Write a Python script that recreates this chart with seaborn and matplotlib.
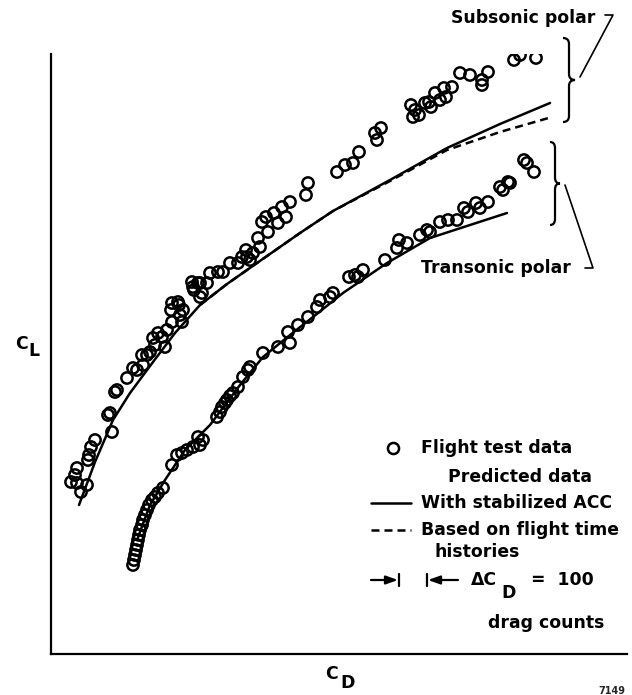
import matplotlib
matplotlib.use("Agg")
import matplotlib.pyplot as plt
from matplotlib.path import Path
from matplotlib.patches import PathPatch
import seaborn as sns
import pandas as pd

# ---------------- data (arbitrary drag / lift units) ----------------
sub_cd = [71, 77, 87, 81, 75, 77, 89, 91, 95, 88,
          108, 112, 110, 115, 117, 127, 133, 137, 143, 147, 142, 150, 155, 165, 153, 158, 167, 172, 182, 162,
          171, 172, 178, 183, 180, 179,
          193, 200, 200, 207, 198, 194, 202, 192,
          210, 218, 223, 230, 238, 242, 246, 250, 253, 247,
          258, 260, 262, 266, 268, 278, 274, 282, 286, 290,
          306, 308, 337, 345, 353, 359, 375, 377, 381,
          411, 415, 419, 413, 425, 429, 431, 435, 440, 444, 446, 452,
          460, 470, 482, 488, 482, 514, 520, 536]
sub_cl = [213, 212, 210, 203, 220, 227, 240, 248, 255, 235,
          280, 263, 282, 303, 305, 317, 327, 325, 330, 340, 340, 343, 350, 348, 357, 362, 365, 373, 373, 358,
          385, 392, 393, 385, 380, 390,
          408, 412, 398, 412, 412, 405, 402, 413,
          422, 423, 423, 432, 432, 438, 445, 435, 442, 438,
          457, 448, 473, 478, 463, 472, 482, 488, 478, 493,
          500, 512, 523, 530, 532, 543, 562, 555, 567,
          590, 585, 580, 578, 592, 593, 588, 602, 595, 607, 598, 608,
          622, 620, 615, 623, 610, 635, 640, 637]

tra_cd = [133, 134, 135, 136, 137, 138, 139, 140, 142, 143, 145, 147, 149, 152, 155, 158, 163,
          172, 177, 182, 187, 193, 198, 203, 200,
          217, 220, 222, 225, 227, 230, 233, 238, 243, 248,
          250, 263, 278, 290, 288, 298, 308, 317, 320, 330, 333,
          349, 355, 358, 363, 385, 397, 407, 399,
          420, 427, 430, 440, 448, 457,
          464, 468, 476, 480, 488, 500, 508, 503, 510,
          524, 527, 534]
tra_cl = [130, 135, 140, 145, 150, 155, 160, 165, 170, 175, 180, 185, 190, 195, 198, 202, 207,
          230, 240, 242, 245, 248, 258, 255, 250,
          278, 283, 288, 292, 295, 299, 302, 308, 318, 325,
          328, 342, 348, 352, 363, 370, 378, 388, 395, 398, 402,
          418, 420, 418, 425, 435, 447, 452, 455,
          460, 465, 463, 473, 475, 475,
          487, 483, 492, 487, 493, 508, 513, 505, 512,
          535, 532, 523]

# predicted polars
sub_acc_cd = [79, 95, 113, 130, 153, 175, 200, 227, 257, 300, 333, 390, 447, 500, 550]
sub_acc_cl = [190, 233, 275, 302, 333, 362, 390, 411, 432, 462, 484, 515, 547, 571, 592]
sub_hist_cd = [200, 227, 257, 300, 333, 390, 447, 500, 552]
sub_hist_cl = [390, 411, 432, 462, 484, 514, 545, 563, 578]
tra_acc_cd = [137, 150, 165, 185, 210, 240, 263, 290, 313, 343, 387, 430, 470, 507]
tra_acc_cl = [155, 190, 215, 245, 270, 310, 338, 360, 378, 402, 432, 457, 470, 482]

flight = pd.DataFrame({"CD": sub_cd + tra_cd, "CL": sub_cl + tra_cl})

# ---------------- figure ----------------
sns.set_style("white")
plt.rcParams["font.family"] = ["DejaVu Sans"]
plt.rcParams["font.weight"] = "bold"

W, H = 632, 695
fig = plt.figure(figsize=(W / 100, H / 100), dpi=100)
ax = fig.add_axes([51 / W, 41 / H, 576 / W, 600 / H])
ax.set_xlim(51, 627)
ax.set_ylim(41, 641)

LW = 1.8
sns.scatterplot(data=flight, x="CD", y="CL", ax=ax, marker="o", s=66,
                facecolor="none", edgecolor="black", linewidth=1.8, zorder=3)
sns.lineplot(x=sub_acc_cd, y=sub_acc_cl, ax=ax, sort=False, estimator=None,
             color="black", lw=LW)
sns.lineplot(x=sub_hist_cd, y=sub_hist_cl, ax=ax, sort=False, estimator=None,
             color="black", lw=LW, linestyle=(0, (3.2, 2.0)))
sns.lineplot(x=tra_acc_cd, y=tra_acc_cl, ax=ax, sort=False, estimator=None,
             color="black", lw=LW)

ax.set_xlabel("")
ax.set_ylabel("")
ax.set_xticks([])
ax.set_yticks([])
for s in ["top", "right"]:
    ax.spines[s].set_visible(False)
for s in ["left", "bottom"]:
    ax.spines[s].set_linewidth(1.6)
    ax.spines[s].set_color("black")

FS = 12.4
txt = dict(fontsize=FS, fontweight="bold", color="black", clip_on=False)


def brace(x, y0, y1, w, lw=1.6):
    ym = (y0 + y1) / 2
    r = 6
    xb = x + w * 0.5
    verts = [(x, y1), (xb, y1), (xb, y1 - r), (xb, ym + r), (xb, ym), (x + w, ym),
             (xb, ym), (xb, ym - r), (xb, y0 + r), (xb, y0), (x, y0)]
    codes = [Path.MOVETO, Path.CURVE3, Path.CURVE3, Path.LINETO, Path.CURVE3, Path.CURVE3,
             Path.CURVE3, Path.CURVE3, Path.LINETO, Path.CURVE3, Path.CURVE3]
    ax.add_patch(PathPatch(Path(verts, codes), fill=False, lw=lw, color="black", clip_on=False))


brace(563, 573, 657, 12)
brace(550, 470, 553, 10)

# leader lines
ax.plot([605, 613, 580], [680, 680, 618], color="black", lw=1.2, clip_on=False)
ax.plot([565, 593, 585], [510, 427, 427], color="black", lw=1.2, clip_on=False)
ax.text(451, 677, "Subsonic polar", ha="left", va="center", **txt)
ax.text(421, 427, "Transonic polar", ha="left", va="center", **txt)

# legend (drawn as annotations)
ax.plot([393], [247], marker="o", ms=8, mfc="none", mec="black", mew=1.8, clip_on=False)
ax.text(421, 247, "Flight test data", ha="left", va="center", **txt)
ax.text(448, 218, "Predicted data", ha="left", va="center", **txt)
ax.plot([371, 411], [192, 192], color="black", lw=LW)
ax.text(421, 192, "With stabilized ACC", ha="left", va="center", **txt)
ax.plot([371, 411], [165, 165], color="black", lw=LW, linestyle=(0, (3.2, 2.0)))
ax.text(421, 165, "Based on flight time", ha="left", va="center", **txt)
ax.text(435, 143, "histories", ha="left", va="center", **txt)

# delta CD indicator
ax.annotate("", xy=(398, 115), xytext=(371, 115),
            arrowprops=dict(arrowstyle="-|>,head_length=0.7,head_width=0.25", color="black", lw=1.6,
                            shrinkA=0, shrinkB=0))
ax.plot([399, 399], [109, 121], color="black", lw=1.6)
ax.annotate("", xy=(428, 115), xytext=(458, 115),
            arrowprops=dict(arrowstyle="-|>,head_length=0.7,head_width=0.25", color="black", lw=1.6,
                            shrinkA=0, shrinkB=0))
ax.plot([427, 427], [109, 121], color="black", lw=1.6)
ax.text(471, 115, "\u0394C", ha="left", va="center", **txt)
ax.text(501, 102, "D", ha="left", va="center", **txt)
ax.text(531, 115, "=  100", ha="left", va="center", **txt)
ax.text(488, 72, "drag counts", ha="left", va="center", **txt)

# axis labels
ax.text(331, 21, "C", ha="center", va="center", **txt)
ax.text(348, 12, "D", ha="center", va="center", **txt)
ax.text(21, 351, "C", ha="center", va="center", **txt)
ax.text(34, 344, "L", ha="center", va="center", **txt)
ax.text(612, 9, "7149", ha="center", va="top", fontsize=7, fontweight="bold", clip_on=False)

fig.savefig("out.png", dpi=100)
